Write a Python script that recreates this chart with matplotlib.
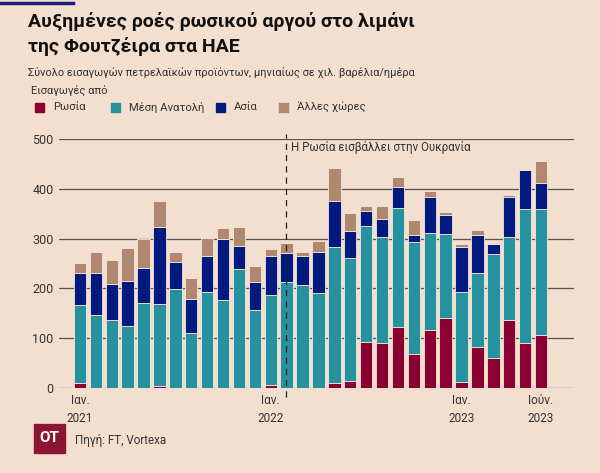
import matplotlib
matplotlib.use("Agg")
import matplotlib.pyplot as plt
from matplotlib.patches import Rectangle
import numpy as np

plt.rcParams['font.family'] = ['Roboto', 'DejaVu Sans']

# monthly data, Jan 2021 - Jun 2023 (thousand barrels/day)
russia = [11, 0, 0, 0, 0, 5, 0, 0, 0, 0, 0, 0,
          7, 0, 0, 0, 11, 15, 92, 90, 122, 68, 117, 141,
          12, 82, 60, 136, 90, 106]
middle_east = [155, 147, 136, 124, 170, 164, 199, 110, 193, 177, 239, 157,
               179, 213, 207, 191, 273, 246, 234, 214, 240, 226, 194, 168,
               181, 149, 209, 167, 269, 254]
asia = [65, 84, 72, 91, 71, 154, 55, 68, 72, 123, 46, 56,
        79, 58, 58, 82, 91, 54, 30, 35, 41, 13, 73, 39,
        90, 77, 20, 80, 78, 51]
other = [20, 42, 49, 66, 58, 53, 20, 43, 36, 21, 39, 32,
         14, 20, 9, 23, 67, 36, 10, 27, 20, 31, 12, 6,
         6, 10, 2, 5, 0, 44]

series_names = ['Ρωσία', 'Μέση Ανατολή', 'Ασία', 'Άλλες χώρες']
colors = ['#8a0030', '#2692a0', '#001a80', '#b08870']

tick_pos = [0, 12, 24, 29]
tick_labels = ['Ιαν.\n2021', 'Ιαν.\n2022', 'Ιαν.\n2023', 'Ιούν.\n2023']
y_ticks = [0, 100, 200, 300, 400, 500]

bg = '#f2dfcf'
txt = '#333333'
fig = plt.figure(figsize=(6, 4.73), dpi=100)
fig.patch.set_facecolor(bg)
ax = fig.add_axes([59 / 600, 85 / 473, 515 / 600, 249 / 473])
ax.set_facecolor(bg)

x = np.arange(len(russia))
bottom = np.zeros(len(russia))
for vals, col in zip([russia, middle_east, asia, other], colors):
    ax.bar(x, vals, bottom=bottom, width=0.78, color=col,
           edgecolor='#f6e6d9', linewidth=0.6, zorder=3)
    bottom += np.array(vals)

ax.set_xlim(-1.32, 31.07)
ax.set_ylim(0, 500)
ax.set_yticks(y_ticks)
ax.set_yticklabels([str(v) for v in y_ticks], fontsize=9, color=txt)
ax.set_xticks(tick_pos)
ax.set_xticklabels(tick_labels, fontsize=8.5, color=txt, linespacing=1.5)
ax.tick_params(length=0, pad=4)
ax.yaxis.grid(True, color='#555555', linewidth=0.9, zorder=0)
ax.set_axisbelow(True)
for s in ax.spines.values():
    s.set_visible(False)

# invasion marker
ax.plot([12.95, 12.95], [-18, 510], linestyle=(0, (5, 4)), color='#222222',
        linewidth=0.9, clip_on=False, zorder=4)
ax.text(13.25, 484, 'Η Ρωσία εισβάλλει στην Ουκρανία', fontsize=8.3,
        color=txt, va='center', ha='left')

# header
fig.add_artist(plt.Line2D([0, 73 / 600], [1 - 3 / 473, 1 - 3 / 473],
                          color='#1a237e', linewidth=2.5))
fig.text(28 / 600, 1 - 21 / 473, 'Αυξημένες ροές ρωσικού αργού στο λιμάνι',
         fontsize=14, fontweight='bold', color='#111111', va='center')
fig.text(28 / 600, 1 - 47 / 473, 'της Φουτζέιρα στα ΗΑΕ',
         fontsize=14, fontweight='bold', color='#111111', va='center')
fig.text(28 / 600, 1 - 73 / 473,
         'Σύνολο εισαγωγών πετρελαϊκών προϊόντων, μηνιαίως σε χιλ. βαρέλια/ημέρα',
         fontsize=7.9, color=txt, va='center')
fig.text(31 / 600, 1 - 91 / 473, 'Εισαγωγές από', fontsize=8.0,
         color=txt, va='center')

# legend
leg_x = [35, 111, 216, 279]
for lx, name, col in zip(leg_x, series_names, colors):
    fig.add_artist(Rectangle((lx / 600, 1 - 112 / 473), 9 / 600, 9 / 473,
                             color=col, transform=fig.transFigure))
    fig.text((lx + 18) / 600, 1 - 107.5 / 473, name, fontsize=8.1,
             color=txt, va='center')

# footer
fig.add_artist(Rectangle((34 / 600, 1 - 453 / 473), 31 / 600, 29 / 473,
                         color='#8c1533', transform=fig.transFigure))
fig.text(49.5 / 600, 1 - 438.5 / 473, 'OT', fontsize=11, fontweight='bold',
         color='white', ha='center', va='center')
fig.text(75 / 600, 1 - 440 / 473, 'Πηγή: FT, Vortexa', fontsize=8.4,
         color=txt, va='center')

fig.savefig('out.png', dpi=100, facecolor=bg)
